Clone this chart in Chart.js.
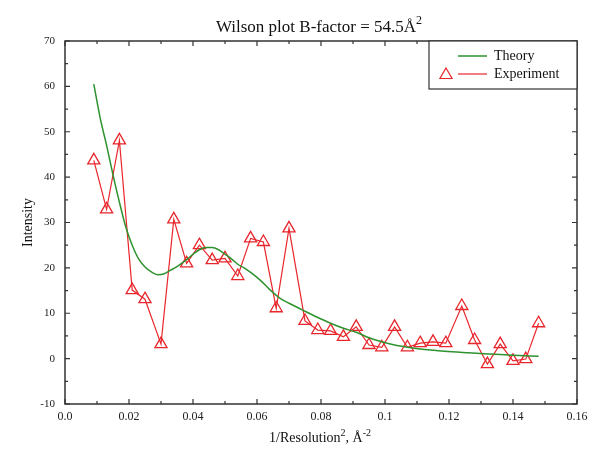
<!DOCTYPE html>
<html>
<head>
<meta charset="utf-8">
<script src="https://cdn.jsdelivr.net/npm/chart.js@4/dist/chart.umd.min.js"></script>
<style>
  body { margin: 0; background: #fff; }
  canvas { display: block; }
</style>
</head>
<body>
<canvas id="wilsonChart" width="590" height="450"></canvas>
<script>
// experimental intensities, binned by 1/res^2
const expX = [0.009, 0.013, 0.017, 0.021, 0.025, 0.030, 0.034, 0.038, 0.042, 0.046,
              0.050, 0.054, 0.058, 0.062, 0.066, 0.070, 0.075, 0.079, 0.083, 0.087,
              0.091, 0.095, 0.099, 0.103, 0.107, 0.111, 0.115, 0.119, 0.124, 0.128,
              0.132, 0.136, 0.140, 0.144, 0.148];
const expY = [43.7, 32.9, 48.1, 15.1, 13.1, 3.2, 30.7, 21.0, 25.0, 21.7,
              22.1, 18.2, 26.5, 25.7, 11.1, 28.7, 8.3, 6.3, 6.1, 4.8,
              7.0, 3.0, 2.5, 7.0, 2.5, 3.4, 3.7, 3.4, 11.6, 4.1,
              -1.2, 3.2, -0.5, -0.1, 7.8];

// theoretical curve for B = 54.5
const theoryX = [0.009, 0.011, 0.013, 0.015, 0.017, 0.019, 0.021, 0.023, 0.025, 0.027,
                 0.029, 0.031, 0.033, 0.035, 0.038, 0.040, 0.042, 0.044, 0.046, 0.048,
                 0.050, 0.052, 0.054, 0.056, 0.058, 0.061, 0.064, 0.067, 0.070, 0.074,
                 0.078, 0.083, 0.087, 0.091, 0.095, 0.099, 0.103, 0.107, 0.111, 0.116,
                 0.121, 0.126, 0.131, 0.136, 0.142, 0.148];
const theoryY = [60.5, 53.0, 47.0, 40.5, 34.5, 29.0, 25.0, 22.0, 20.2, 19.1,
                 18.5, 18.7, 19.5, 20.3, 21.8, 23.0, 24.0, 24.5, 24.5, 24.0,
                 23.0, 22.0, 20.8, 20.0, 19.0, 17.3, 15.2, 13.4, 12.2, 10.8,
                 9.4, 7.8, 6.7, 5.8, 4.6, 3.7, 3.0, 2.5, 2.1, 1.8,
                 1.5, 1.3, 1.1, 0.9, 0.7, 0.5];

const xTicks = [0, 0.02, 0.04, 0.06, 0.08, 0.1, 0.12, 0.14, 0.16];
const xTickLabels = ['0.0', '0.02', '0.04', '0.06', '0.08', '0.1', '0.12', '0.14', '0.16'];
const yTicks = [-10, 0, 10, 20, 30, 40, 50, 60, 70];

const RED = '#e8262c';
const GREEN = '#2e922e';
const AXIS = '#333';
const SERIF = '"Liberation Serif", "DejaVu Serif", serif';

const toPoints = (xs, ys) => xs.map((x, i) => ({ x: x, y: ys[i] }));

// draws text with raised parts: [[text, isSuper], ...]
function drawRich(ctx, parts, cx, y, size) {
  const supSize = Math.round(size * 0.7);
  let total = 0;
  parts.forEach(([t, sup]) => {
    ctx.font = (sup ? supSize : size) + 'px ' + SERIF;
    total += ctx.measureText(t).width;
  });
  let x = cx - total / 2;
  ctx.textAlign = 'left';
  ctx.textBaseline = 'alphabetic';
  parts.forEach(([t, sup]) => {
    ctx.font = (sup ? supSize : size) + 'px ' + SERIF;
    ctx.fillText(t, x, sup ? y - size * 0.45 : y);
    x += ctx.measureText(t).width;
  });
}

const decorations = {
  id: 'decorations',
  afterDraw(chart) {
    const ctx = chart.ctx;
    const area = chart.chartArea;
    const xs = chart.scales.x, ys = chart.scales.y;
    ctx.save();

    // frame
    ctx.strokeStyle = AXIS;
    ctx.lineWidth = 1.5;
    ctx.strokeRect(area.left, area.top, area.right - area.left, area.bottom - area.top);

    // inward ticks on all four sides
    ctx.lineWidth = 1.2;
    ctx.beginPath();
    for (let k = 0; k <= 16; k++) {
      const px = xs.getPixelForValue(k / 100);
      const len = k % 2 === 0 ? 5 : 3;
      ctx.moveTo(px, area.bottom); ctx.lineTo(px, area.bottom - len);
      ctx.moveTo(px, area.top); ctx.lineTo(px, area.top + len);
    }
    for (let v = -10; v <= 70; v += 5) {
      const py = ys.getPixelForValue(v);
      const len = v % 10 === 0 ? 5 : 3;
      ctx.moveTo(area.left, py); ctx.lineTo(area.left + len, py);
      ctx.moveTo(area.right, py); ctx.lineTo(area.right - len, py);
    }
    ctx.stroke();

    ctx.fillStyle = '#111';
    // title
    drawRich(ctx, [['Wilson plot B-factor = 54.5\u00c5', false], ['2', true]], 319, 32, 17);
    // x axis title
    drawRich(ctx, [['1/Resolution', false], ['2', true], [', \u00c5', false], ['-2', true]], 320, 442, 14);
    // y axis title
    ctx.translate(28, (area.top + area.bottom) / 2);
    ctx.rotate(-Math.PI / 2);
    ctx.font = '14px ' + SERIF;
    ctx.textAlign = 'center';
    ctx.textBaseline = 'middle';
    ctx.fillText('Intensity', 0, 0);
    ctx.setTransform(1, 0, 0, 1, 0, 0);

    // legend box
    const lx = 429, ly = area.top, lw = area.right - 429, lh = 48;
    ctx.fillStyle = '#fff';
    ctx.fillRect(lx, ly, lw, lh);
    ctx.strokeStyle = AXIS;
    ctx.lineWidth = 1.2;
    ctx.strokeRect(lx, ly, lw, lh);

    ctx.lineWidth = 1.5;
    ctx.strokeStyle = GREEN;
    ctx.beginPath(); ctx.moveTo(458, 56); ctx.lineTo(487, 56); ctx.stroke();
    ctx.strokeStyle = RED;
    ctx.lineWidth = 1.2;
    ctx.beginPath(); ctx.moveTo(458, 74); ctx.lineTo(487, 74); ctx.stroke();
    Chart.helpers.drawPoint(ctx, { pointStyle: 'triangle', radius: 7, borderWidth: 1.3 }, 446, 75);

    ctx.fillStyle = '#111';
    ctx.font = '14px ' + SERIF;
    ctx.textAlign = 'left';
    ctx.textBaseline = 'middle';
    ctx.fillText('Theory', 494, 56);
    ctx.fillText('Experiment', 494, 74);
    ctx.restore();
  }
};

new Chart(document.getElementById('wilsonChart').getContext('2d'), {
  type: 'scatter',
  data: {
    datasets: [
      {
        label: 'Theory',
        data: toPoints(theoryX, theoryY),
        showLine: true,
        borderColor: GREEN,
        borderWidth: 1.5,
        pointRadius: 0,
        cubicInterpolationMode: 'monotone',
        fill: false
      },
      {
        label: 'Experiment',
        data: toPoints(expX, expY),
        showLine: true,
        borderColor: RED,
        borderWidth: 1.2,
        pointStyle: 'triangle',
        pointRadius: 7,
        pointBorderWidth: 1.3,
        pointBorderColor: RED,
        pointBackgroundColor: 'rgba(0,0,0,0)',
        tension: 0,
        fill: false
      }
    ]
  },
  options: {
    responsive: false,
    animation: false,
    layout: { padding: { top: 41, right: 13, left: 0, bottom: 0 } },
    plugins: {
      legend: { display: false },
      title: { display: false },
      tooltip: { enabled: false }
    },
    scales: {
      x: {
        type: 'linear',
        min: 0,
        max: 0.16,
        afterBuildTicks: (s) => { s.ticks = xTicks.map(v => ({ value: v })); },
        afterFit: (s) => { s.height = 46; s.paddingLeft = 0; s.paddingRight = 0; },
        grid: { display: false, drawTicks: false },
        border: { display: false },
        ticks: {
          padding: 6,
          color: '#222',
          font: { family: SERIF, size: 12 },
          maxRotation: 0,
          callback: (v) => xTickLabels[xTicks.findIndex(t => Math.abs(t - v) < 1e-9)]
        }
      },
      y: {
        type: 'linear',
        min: -10,
        max: 70,
        afterBuildTicks: (s) => { s.ticks = yTicks.map(v => ({ value: v })); },
        afterFit: (s) => { s.width = 65; s.paddingTop = 0; s.paddingBottom = 0; },
        grid: { display: false, drawTicks: false },
        border: { display: false },
        ticks: {
          padding: 10,
          color: '#222',
          font: { family: SERIF, size: 11 }
        }
      }
    }
  },
  plugins: [decorations]
});
</script>
</body>
</html>
